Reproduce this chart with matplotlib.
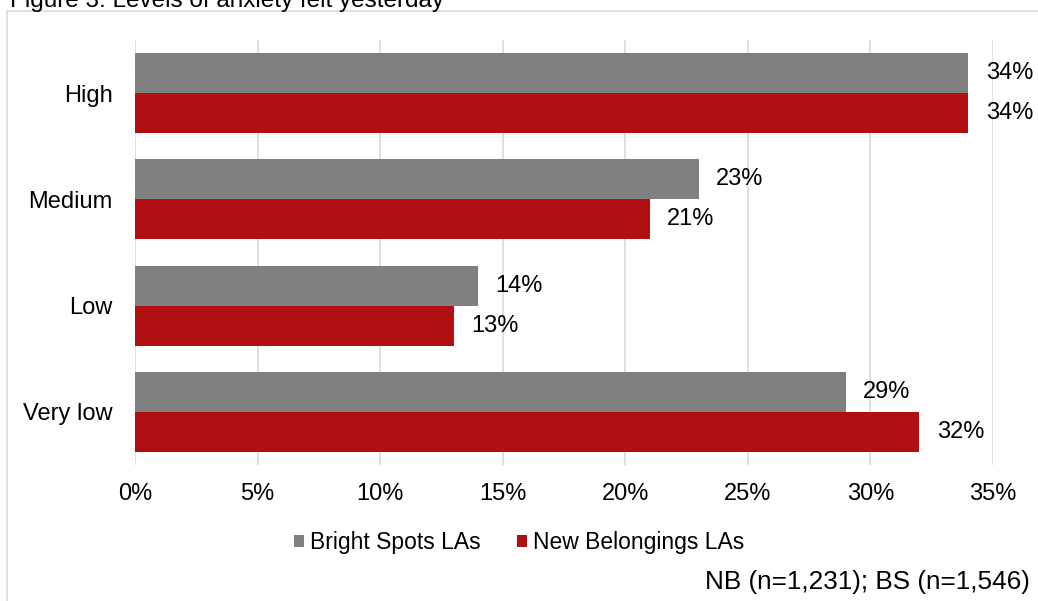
import matplotlib.pyplot as plt
import matplotlib.patches as patches
import numpy as np

plt.rcParams['font.family'] = ['Liberation Sans', 'DejaVu Sans']

categories = ['High', 'Medium', 'Low', 'Very low']
bright_spots = [34, 23, 14, 29]
new_belongings = [34, 21, 13, 32]
series_names = ['Bright Spots LAs', 'New Belongings LAs']
colors = ['#808080', '#B20F12']

fig = plt.figure(figsize=(10.38, 6.01), dpi=100)
ax = fig.add_axes([135 / 1038, 0.2263, 858 / 1038, 0.7071])

# chart border
fig.patches.append(patches.Rectangle((7 / 1038, -0.01), 1.0, 1 - 11 / 601 + 0.01,
                                     transform=fig.transFigure, fill=False,
                                     edgecolor='#d9d9d9', linewidth=1.2, zorder=0))

y = np.arange(len(categories))
h = 0.377
ax.barh(y - h / 2, bright_spots, height=h, color=colors[0], label=series_names[0], zorder=3)
ax.barh(y + h / 2, new_belongings, height=h, color=colors[1], label=series_names[1], zorder=3)

fs = 17
for yi, v in zip(y, bright_spots):
    ax.text(v + 0.7, yi - h / 2, f'{v}%', va='center', ha='left', fontsize=fs)
for yi, v in zip(y, new_belongings):
    ax.text(v + 0.7, yi + h / 2, f'{v}%', va='center', ha='left', fontsize=fs)

ax.set_xlim(0, 35)
ax.set_ylim(3.5, -0.5)
ax.set_xticks(np.arange(0, 36, 5))
ax.set_xticklabels([f'{t}%' for t in range(0, 36, 5)], fontsize=fs)
ax.set_yticks(y)
ax.set_yticklabels(categories, fontsize=fs)
ax.tick_params(length=0)
ax.tick_params(axis='x', pad=13)
ax.tick_params(axis='y', pad=16)
ax.grid(axis='x', color='#d9d9d9', linewidth=1.2, zorder=0)
for s in ax.spines.values():
    s.set_visible(False)

ax.legend(loc='center', bbox_to_anchor=(0.5, (601 - 543) / 601), bbox_transform=fig.transFigure,
          ncol=2, frameon=False, fontsize=16.5, handlelength=0.45, handleheight=0.45,
          handletextpad=0.25, columnspacing=1.6, borderaxespad=0)

fig.text(1030 / 1038, 1 - 582 / 601, 'NB (n=1,231); BS (n=1,546)', ha='right', va='center', fontsize=18.8)
fig.text(10 / 1038, 1 - 7 / 601, 'Figure 3: Levels of anxiety felt yesterday', ha='left',
         va='baseline', fontsize=17.5)

fig.savefig('out.png', dpi=100)
